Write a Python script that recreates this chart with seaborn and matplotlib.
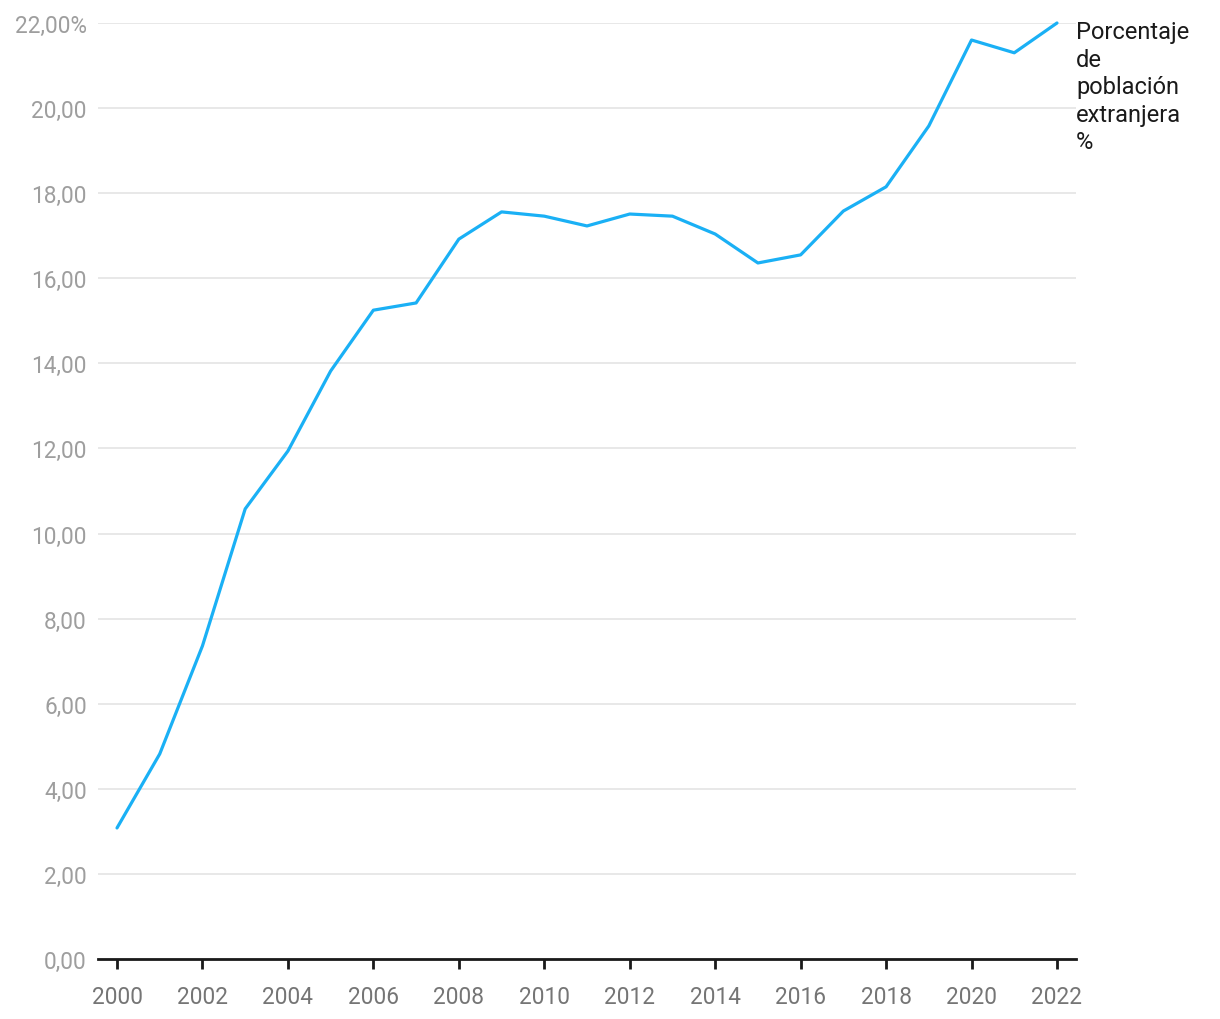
import matplotlib
matplotlib.use("Agg")
import matplotlib.pyplot as plt
import seaborn as sns
import pandas as pd

years = list(range(2000, 2023))
values = [3.08, 4.82, 7.36, 10.58, 11.94, 13.82, 15.25, 15.42, 16.92, 17.56,
          17.46, 17.23, 17.51, 17.46, 17.04, 16.36, 16.55, 17.58, 18.15, 19.58,
          21.60, 21.30, 22.00]
series_label = "Porcentaje\nde\npoblación\nextranjera\n%"
yticks = [0, 2, 4, 6, 8, 10, 12, 14, 16, 18, 20, 22]
xticks = list(range(2000, 2023, 2))

df = pd.DataFrame({"year": years, "value": values})

sns.set_theme(style="white")
plt.rcParams['font.family'] = ['Roboto', 'DejaVu Sans']

fig = plt.figure(figsize=(12.2, 10.2), dpi=100)
ax = fig.add_axes([98/1220, 1 - 960/1020, (1076-98)/1220, (960-24)/1020])

sns.lineplot(data=df, x="year", y="value", ax=ax, color="#1ab0f5", linewidth=2.3)
for ln in ax.lines:
    ln.set_clip_on(False)
    ln.set_solid_capstyle("round")

ax.set_xlim(1999.555, 2022.445)
ax.set_ylim(0, 22)
ax.set_yticks(yticks)
ylabels = [f"{v:.2f}".replace(".", ",") for v in yticks]
ylabels[-1] = ylabels[-1] + "%"
ax.set_yticklabels(ylabels)
ax.set_xticks(xticks)
ax.set_xticklabels([str(x) for x in xticks])

ax.grid(axis="y", color="#e6e6e6", linewidth=1.3)
ax.set_axisbelow(True)
for s in ["top", "right", "left"]:
    ax.spines[s].set_visible(False)
ax.spines["bottom"].set_color("#1a1a1a")
ax.spines["bottom"].set_linewidth(2)

ax.tick_params(axis="y", length=0, pad=8, labelsize=16.3, labelcolor="#9e9e9e")
ax.tick_params(axis="x", length=7, width=2, color="#1a1a1a", pad=11.5,
               labelsize=16.3, labelcolor="#757575", bottom=True, direction="out")

ax.set_xlabel("")
ax.set_ylabel("")

ax.annotate(series_label, xy=(1.0, 22), xycoords=("axes fraction", "data"),
            xytext=(0, 2), textcoords="offset points", ha="left", va="top",
            fontsize=17, color="#1a1a1a", linespacing=1.25, annotation_clip=False)

fig.savefig("out.png", dpi=100, facecolor="white")
